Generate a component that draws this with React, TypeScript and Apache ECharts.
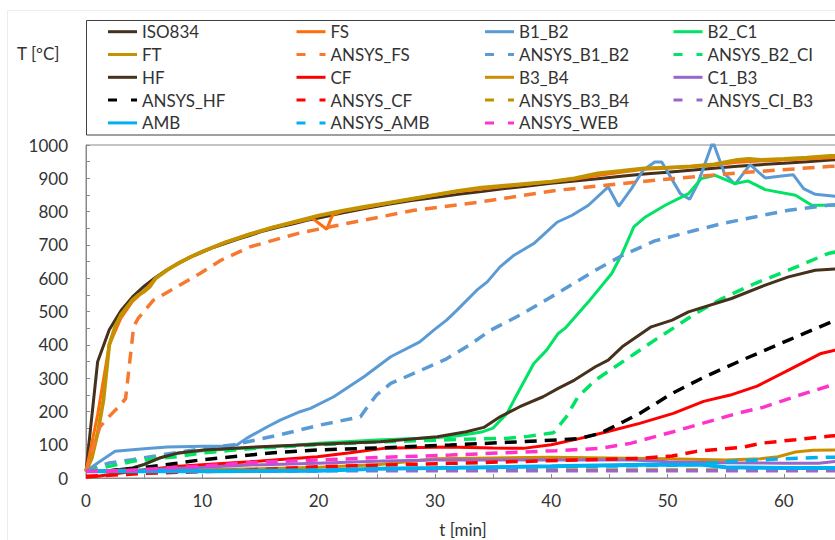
import React, { useEffect, useRef } from 'react';
import * as echarts from 'echarts';

type P = [number, number][];

// time [min], temperature [ºC]
const ISO834: P = [[0,20],[1,349],[2,445],[3,502],[4,544],[5,576],[6,603],[7,626],[8,645],[9,663],[10,678],[11,693],[12,705],[13,717],[14,727],[15,739],[16,748],[17,757],[18,765],[19,774],[20,781],[22,796],[24,809],[26,822],[28,833],[30,842],[32,852],[34,860],[36,869],[38,877],[40,885],[42,892],[44,899],[46,906],[48,913],[50,918],[52,924],[54,930],[56,936],[58,941],[60,945],[62,950],[64,955],[66,960]];
const FS: P = [[0,20],[1,190],[2,400],[3,480],[4,530],[5,562],[6,600],[7,626],[8,647],[9,665],[10,680],[12,708],[14,732],[16,752],[18,768],[19.5,779],[20.7,747],[21.2,790],[22,800],[24,812],[26,826],[28,838],[30,850],[32,860],[34,868],[36,875],[38,882],[40,890],[42,897],[44,908],[46,918],[48,927],[50,931],[52,935],[54,940],[56,948],[58,952],[60,955],[62,958],[64,962],[66,965]];
const B1_B2: P = [[0,20],[1,45],[2.5,80],[5,88],[7,93],[10,95],[12,95],[13,100],[13.8,119],[15.6,154],[16.7,174],[18.4,199],[19.3,209],[21.3,244],[23.9,304],[26.2,364],[28.7,409],[29.9,444],[31,474],[31.9,504],[33.6,564],[34.5,589],[35.6,634],[36.8,669],[38.5,704],[39.6,739],[40.5,768],[41.8,789],[43.2,819],[44.9,874],[45.8,816],[46.9,869],[47.9,924],[48.9,949],[49.5,949],[51.1,854],[51.9,837],[52.6,884],[53.9,1010],[54.9,914],[55.8,882],[57.1,941],[58.4,901],[59.8,907],[60.8,911],[61.7,869],[62.7,852],[64.4,846],[66,844]];
const B2_C1: P = [[0,20],[2,22],[4,30],[5,40],[6,55],[7,68],[8,75],[10,82],[12,86],[15,92],[18,98],[20,104],[25,114],[30,121],[32,127],[34,138],[35,150],[36.2,194],[36.8,234],[38.5,344],[39.6,384],[40.6,434],[41.2,450],[43.2,529],[45.2,614],[46.1,674],[47.1,754],[48.1,784],[49.8,819],[51.8,854],[52.9,899],[54.1,909],[55.8,884],[56.9,892],[58.4,866],[61,849],[62.4,819],[64.4,819],[66,815]];
const FT: P = [[0,20],[0.5,60],[1,135],[1.5,234],[2,400],[2.5,454],[3,490],[4,535],[4.5,550],[5,560],[5.5,575],[6,600],[7,625],[8,646],[9,664],[10,680],[12,708],[14,731],[16,752],[18,770],[20,788],[22,802],[24,815],[26,826],[28,838],[30,850],[32,862],[34,872],[36,878],[38,884],[40,890],[42,900],[44,915],[46,922],[48,930],[50,932],[52,936],[54,942],[56,955],[57,958],[58,955],[60,958],[62,962],[64,967],[66,970]];
const ANSYS_FS: P = [[0,20],[0.5,80],[1.2,154],[2,185],[2.7,210],[3.4,238],[3.7,330],[4.1,455],[4.5,480],[5.8,534],[7.8,574],[9.8,614],[11.6,654],[14.1,694],[16.7,720],[18.4,736],[22.4,764],[28.2,804],[33.9,829],[40.5,864],[48.9,894],[56,916],[64.1,936],[66,940]];
const ANSYS_B1_B2: P = [[0,20],[1,35],[2,45],[4,55],[7,72],[10,88],[12.7,100],[16.7,130],[20,158],[23.6,184],[24.2,214],[25,250],[26.2,284],[28.7,322],[31,358],[33,400],[34.8,444],[37.3,489],[40.5,554],[43.8,624],[46.1,668],[48.9,712],[52.4,744],[54.7,764],[57.5,784],[60.4,804],[63.8,819],[66,825]];
const ANSYS_B2_CI: P = [[0,20],[2,35],[4,50],[6,58],[7.8,64],[10,75],[12.7,84],[15,90],[20,100],[25,108],[30.5,114],[34,118],[36.2,119],[38,125],[40.2,136],[41.3,184],[42.3,244],[43.8,294],[45.5,334],[47.2,374],[48.9,414],[50.5,450],[52.4,494],[54.7,539],[57.5,584],[60.4,624],[63.8,674],[66,690]];
const HF: P = [[0,20],[2,22],[4,30],[5,41],[6.4,61],[7.8,74],[10.1,84],[15,94],[18.4,99],[25.3,109],[30.2,124],[32.7,139],[34.2,152],[35.6,184],[37.3,214],[39.3,244],[40.6,269],[42,294],[43.8,334],[44.9,354],[46.1,394],[48.6,454],[50.4,474],[51.8,499],[55.5,539],[58.4,579],[60.4,604],[62.7,624],[64.4,628],[66,630]];
const CF: P = [[0,2],[1,5],[3,15],[5,25],[8,35],[10,40],[14.1,49],[19.9,64],[22.7,76],[25.6,89],[31,93],[35,90],[37.6,89],[40,100],[42.5,119],[44.8,139],[47.6,164],[50.5,194],[53.1,230],[55.4,249],[57.7,276],[60.4,324],[63.2,374],[64.4,384],[66,395]];
const B3_B4: P = [[0,20],[5,22],[10,25],[15,28],[20,32],[25,40],[28,50],[30,58],[35,60],[40,62],[45,60],[50,58],[55,54],[58,58],[59.5,64],[61,78],[62.5,83],[66,85]];
const C1_B3: P = [[0,20],[5,25],[10,32],[14.1,39],[19.9,44],[25.6,51],[30,54],[40,54],[47,54],[50,49],[55,46],[60,44],[63,44],[64.5,50],[66,52]];
const ANSYS_HF: P = [[0,20],[2,22],[4,28],[5,32],[7.8,44],[10,55],[14.1,69],[16.1,76],[19.9,84],[25.6,91],[31.3,99],[36.2,107],[40.5,114],[42.5,119],[44.2,134],[46.2,169],[47.6,194],[50.4,254],[53.2,304],[56.4,354],[60.4,414],[64.1,469],[66,495]];
const ANSYS_CF: P = [[0,5],[2,8],[5,14],[10,19],[14.1,24],[19.9,34],[25.6,39],[31.3,44],[39,51],[47.6,59],[50.4,66],[52.5,80],[56.4,92],[58.2,105],[61,115],[64,126],[66,130]];
const ANSYS_B3_B4: P = [[0,20],[10,22],[20,23],[30,24],[40,24],[50,24],[60,24],[66,25]];
const ANSYS_CI_B3: P = [[0,20],[10,20],[25,22],[30,22],[40,22],[50,22],[60,22],[66,22]];
const AMB: P = [[0,20],[10,20],[20,22],[25,28],[30,30],[40,35],[48,40],[53,40],[55,32],[60,30],[66,30]];
const ANSYS_AMB: P = [[0,20],[10,20],[20,24],[30,30],[40,34],[50,38],[53,42],[55.1,49],[59,56],[63.1,62],[66,63]];
const ANSYS_WEB: P = [[0,20],[3,22],[6,28],[10,36],[15,48],[19.9,54],[25.6,62],[31.3,69],[36.2,76],[40.4,82],[44.2,89],[46.8,104],[50.5,139],[54.5,179],[56.1,195],[58.2,212],[61,245],[64.2,280],[66,295]];

const X_TICKS = [0, 10, 20, 30, 40, 50, 60];
const Y_TICKS = [0, 100, 200, 300, 400, 500, 600, 700, 800, 900, 1000];

const FONT = 'Lato';
const TXT = '#333333';
const AXC = '#8a8a8a';
const DASH = [12, 8];

const SERIES: { name: string; data: P; color: string; width: number; dashed: boolean }[] = [
  { name: 'ISO834', data: ISO834, color: '#45311c', width: 3, dashed: false },
  { name: 'FS', data: FS, color: '#ff6d0a', width: 3, dashed: false },
  { name: 'B1_B2', data: B1_B2, color: '#5b9bd5', width: 3, dashed: false },
  { name: 'B2_C1', data: B2_C1, color: '#00e364', width: 3, dashed: false },
  { name: 'FT', data: FT, color: '#c29200', width: 3.8, dashed: false },
  { name: 'ANSYS_FS', data: ANSYS_FS, color: '#f5792e', width: 3.5, dashed: true },
  { name: 'ANSYS_B1_B2', data: ANSYS_B1_B2, color: '#5b9bd5', width: 3.5, dashed: true },
  { name: 'ANSYS_B2_CI', data: ANSYS_B2_CI, color: '#00e364', width: 3.5, dashed: true },
  { name: 'HF', data: HF, color: '#45311c', width: 3, dashed: false },
  { name: 'CF', data: CF, color: '#ff0000', width: 3, dashed: false },
  { name: 'B3_B4', data: B3_B4, color: '#cc8e00', width: 3, dashed: false },
  { name: 'C1_B3', data: C1_B3, color: '#9966cc', width: 3, dashed: false },
  { name: 'ANSYS_HF', data: ANSYS_HF, color: '#000000', width: 3.5, dashed: true },
  { name: 'ANSYS_CF', data: ANSYS_CF, color: '#ff0000', width: 3.5, dashed: true },
  { name: 'ANSYS_B3_B4', data: ANSYS_B3_B4, color: '#c29000', width: 3.5, dashed: true },
  { name: 'ANSYS_CI_B3', data: ANSYS_CI_B3, color: '#9966cc', width: 3.5, dashed: true },
  { name: 'AMB', data: AMB, color: '#00b0f0', width: 4, dashed: false },
  { name: 'ANSYS_AMB', data: ANSYS_AMB, color: '#00b0f0', width: 3.5, dashed: true },
  { name: 'ANSYS_WEB', data: ANSYS_WEB, color: '#ff33cc', width: 3.5, dashed: true },
];

const LEGEND_COLS = [
  ['ISO834', 'FT', 'HF', 'ANSYS_HF', 'AMB'],
  ['FS', 'ANSYS_FS', 'CF', 'ANSYS_CF', 'ANSYS_AMB'],
  ['B1_B2', 'ANSYS_B1_B2', 'B3_B4', 'ANSYS_B3_B4', 'ANSYS_WEB'],
  ['B2_C1', 'ANSYS_B2_CI', 'C1_B3', 'ANSYS_CI_B3'],
];
const LEGEND_LEFT = [106.5, 295, 483.5, 672];

export default function App() {
  const ref = useRef<HTMLDivElement>(null);
  useEffect(() => {
    const chart = echarts.init(ref.current!, null, { renderer: 'svg' });
    const isDashed = (n: string) => SERIES.find((s) => s.name === n)!.dashed;
    chart.setOption({
      animation: false,
      backgroundColor: '#ffffff',
      textStyle: { fontFamily: FONT },
      grid: {
        left: 86, top: 145, right: 18, bottom: 62,
        show: true, borderColor: AXC, borderWidth: 1, backgroundColor: 'transparent',
      },
      legend: LEGEND_COLS.map((col, i) => ({
        orient: 'vertical',
        left: LEGEND_LEFT[i],
        top: 20.3,
        padding: 0,
        itemWidth: 29,
        itemHeight: 14,
        itemGap: 0,
        selectedMode: false,
        textStyle: { fontSize: 17, fontFamily: FONT, color: TXT, lineHeight: 22.8, height: 22.8 },
        itemStyle: { opacity: 0 },
        lineStyle: { width: 3 },
        data: col.map((n) => ({
          name: n,
          lineStyle: { width: 3, type: isDashed(n) ? [9, 14] : 'solid' },
        })),
      })),
      xAxis: {
        type: 'value', min: 0, max: 65, interval: 5,
        axisLine: { show: true, lineStyle: { color: AXC, width: 1 } },
        axisTick: { show: true, inside: true, length: 4, lineStyle: { color: AXC } },
        splitLine: { show: false },
        axisLabel: {
          fontSize: 17, fontFamily: FONT, color: TXT, margin: 14,
          formatter: (v: number) => (X_TICKS.includes(v) ? String(v) : ''),
        },
      },
      yAxis: {
        type: 'value', min: 0, max: 1000, interval: 50,
        axisLine: { show: true, lineStyle: { color: AXC, width: 1 } },
        axisTick: { show: true, inside: true, length: 4, lineStyle: { color: AXC } },
        splitLine: { show: false },
        axisLabel: {
          fontSize: 17, fontFamily: FONT, color: TXT, margin: 18,
          formatter: (v: number) => (Y_TICKS.includes(v) ? String(v) : ''),
        },
      },
      graphic: [
        { type: 'rect', shape: { x: 7.5, y: 10.5, width: 1000, height: 1000 }, style: { fill: 'none', stroke: '#ececec', lineWidth: 1 }, silent: true, z: -1 },
        { type: 'rect', shape: { x: 86.5, y: 20.5, width: 900, height: 114.5 }, style: { fill: 'none', stroke: '#404040', lineWidth: 1 }, silent: true },
        { type: 'text', left: 17, top: 45, style: { text: 'T [ºC]', fontSize: 17, fontFamily: FONT, fill: TXT } },
        { type: 'text', x: 463, y: 529, style: { text: 't [min]', fontSize: 17, fontFamily: FONT, fill: TXT, align: 'center', verticalAlign: 'middle' } },
      ],
      series: SERIES.map((s) => ({
        name: s.name,
        type: 'line',
        data: s.data,
        symbol: 'none',
        showSymbol: false,
        clip: true,
        color: s.color,
        itemStyle: { color: s.color },
        lineStyle: { color: s.color, width: s.width, type: s.dashed ? DASH : 'solid', cap: 'butt' },
        emphasis: { disabled: true },
      })),
    });
    return () => chart.dispose();
  }, []);
  return (
    <div style={{ position: 'fixed', left: 0, top: 0, width: 835, height: 540, overflow: 'hidden', background: '#ffffff' }}>
      <div ref={ref} style={{ width: 860, height: 540 }} />
    </div>
  );
}
